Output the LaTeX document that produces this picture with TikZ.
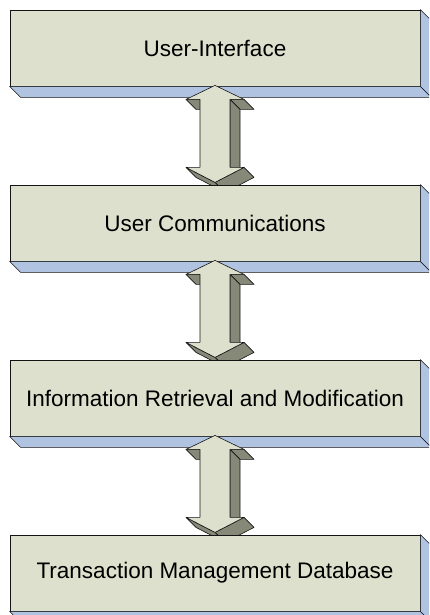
\documentclass[tikz,border=0pt]{standalone}
\usepackage{fontspec}
\setmainfont{Liberation Sans}
\usetikzlibrary{calc}
\definecolor{faceC}{RGB}{221,224,204}
\definecolor{bandC}{RGB}{176,196,226}
\definecolor{sideC}{RGB}{134,136,120}
\definecolor{edgeC}{RGB}{20,20,20}
\tikzset{
  layerbox/.style={draw=edgeC, line width=0.8pt, fill=faceC, minimum width=410pt, minimum height=76pt, inner sep=0pt, font=\fontsize{22.5}{26}\selectfont},
  bandface/.style={draw=edgeC, line width=0.6pt, fill=bandC, line join=round},
  arrside/.style={draw=edgeC, line width=0.6pt, fill=sideC, line join=round},
  arrfront/.style={draw=edgeC, line width=0.6pt, fill=faceC, line join=round},
}
\newcommand\mylayer[3]{%
  \node[layerbox] (#1) at #2 {#3};
  \filldraw[bandface] (#1.south west) -- (#1.south east) -- ($(#1.south east)+(11,11)$) -- ($(#1.south west)+(11,11)$) -- cycle;
  \filldraw[bandface] (#1.north east) -- ($(#1.north east)+(11,11)$) -- ($(#1.south east)+(11,11)$) -- (#1.south east) -- cycle;
}
\newcommand\mydblarrow[1]{%
  \begin{scope}[shift={(#1)}]
    \filldraw[arrside] (-29,14) -- (-15,14) -- (-5,24) -- (-19,24) -- cycle;
    \filldraw[arrside] (15,14) -- (29,14) -- (39,24) -- (25,24) -- cycle;
    \filldraw[arrside] (15,14) -- (25,24) -- (25,92) -- (15,82) -- cycle;
    \filldraw[arrside] (29,82) -- (39,92) -- (10,107) -- (0,97) -- cycle;
    \filldraw[arrside] (-29,82) -- (0,97) -- (10,107) -- (-19,92) -- cycle;
    \filldraw[arrfront] (0,0) -- (29,14) -- (15,14) -- (15,82) -- (29,82) -- (0,97) -- (-29,82) -- (-15,82) -- (-15,14) -- (-29,14) -- cycle;
  \end{scope}
}
\begin{document}
\begin{tikzpicture}[x=1pt,y=-1pt]
\clip (0,0) rectangle (429,615);
\fill[white] (0,0) rectangle (429,615);
\mylayer{b1}{(215,48)}{User-Interface}
\mydblarrow{$(b1.south)+(0,-1)$}
\mylayer{b2}{(215,223)}{User Communications}
\mydblarrow{$(b2.south)+(0,-1)$}
\mylayer{b3}{(215,398)}{Information Retrieval and Modification}
\mydblarrow{$(b3.south)+(0,-1)$}
\mylayer{b4}{(215,573)}{Transaction Management Database}
\end{tikzpicture}
\end{document}
